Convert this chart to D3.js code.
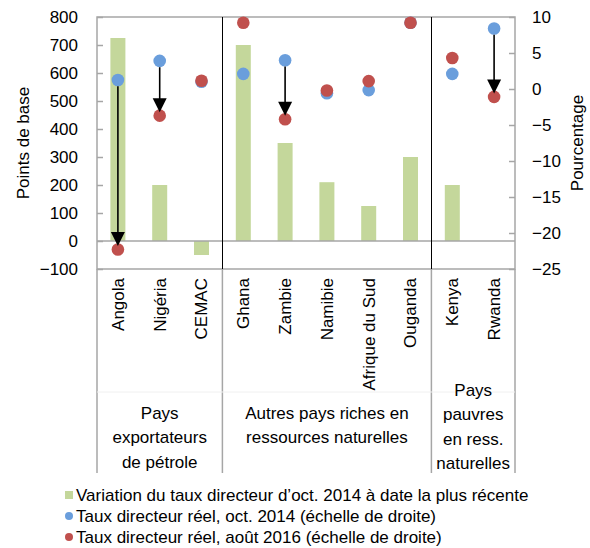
<!DOCTYPE html>
<html>
<head>
<meta charset="utf-8">
<script src="https://cdn.jsdelivr.net/npm/d3@7"></script>
<style>
  html, body { margin: 0; padding: 0; background: #fff; }
  svg { display: block; font-family: "Liberation Sans", Arial, sans-serif; }
</style>
</head>
<body>
<svg id="chart" width="590" height="548"></svg>
<script>
// ---- Data ----
const categories = ["Angola", "Nigéria", "CEMAC", "Ghana", "Zambie", "Namibie", "Afrique du Sud", "Ouganda", "Kenya", "Rwanda"];
const policyChange = [725, 200, -50, 700, 350, 210, 125, 300, 200, 0];      // points de base (left)
const realRateOct2014 = [1.25, 3.9, 1.0, 2.1, 4.0, -0.6, -0.15, 9.2, 2.1, 8.4]; // % (right)
const realRateAug2016 = [-22.3, -3.7, 1.15, 9.2, -4.2, -0.2, 1.1, 9.2, 4.3, -1.1]; // % (right)
const arrowCountries = ["Angola", "Nigéria", "Zambie", "Rwanda"];
const groups = [
  { lines: ["Pays", "exportateurs", "de pétrole"], first: "Angola", last: "CEMAC" },
  { lines: ["Autres pays riches en", "ressources naturelles"], first: "Ghana", last: "Ouganda" },
  { lines: ["Pays", "pauvres", "en ress.", "naturelles"], first: "Kenya", last: "Rwanda" }
];
const leftTicks = [-100, 0, 100, 200, 300, 400, 500, 600, 700, 800];
const rightTicks = [-25, -20, -15, -10, -5, 0, 5, 10];
const legendLabels = [
  "Variation du taux directeur d’oct. 2014 à date la plus récente",
  "Taux directeur réel, oct. 2014 (échelle de droite)",
  "Taux directeur réel, août 2016 (échelle de droite)"
];

// ---- Layout ----
const X0 = 97, X1 = 515, Y0 = 17, Y1 = 269, BOTTOM = 473;
const GREEN = "#c4d79b", BLUE = "#6a9edc", RED = "#c0504d", GRID = "#a6a6a6";
const FS = 17;

const svg = d3.select("#chart");
const x = d3.scaleBand().domain(categories).range([X0, X1]).paddingInner(0).paddingOuter(0);
const yL = d3.scaleLinear().domain([-100, 800]).range([Y1, Y0]);
const yR = d3.scaleLinear().domain([-25, 10]).range([Y1, Y0]);
const cx = c => x(c) + x.bandwidth() / 2;
const barW = 15;

// Bars
svg.append("g").selectAll("rect").data(categories).join("rect")
  .attr("x", c => cx(c) - barW / 2)
  .attr("width", barW)
  .attr("y", (c, i) => yL(Math.max(0, policyChange[i])))
  .attr("height", (c, i) => Math.abs(yL(policyChange[i]) - yL(0)))
  .attr("fill", GREEN);

// Zero line
svg.append("line").attr("x1", X0).attr("x2", X1).attr("y1", yL(0)).attr("y2", yL(0))
  .attr("stroke", GRID).attr("stroke-width", 1.5);

// Frame
svg.append("rect").attr("x", X0).attr("y", Y0).attr("width", X1 - X0).attr("height", Y1 - Y0)
  .attr("fill", "none").attr("stroke", GRID).attr("stroke-width", 1.5);

// Group separators inside plot (black) and below (gray)
const bounds = [X0];
groups.forEach(g => bounds.push(x(g.last) + x.bandwidth()));
groups.slice(0, -1).forEach(g => {
  const bx = Math.round(x(g.last) + x.bandwidth()) + 0.5;
  svg.append("line").attr("x1", bx).attr("x2", bx).attr("y1", Y0).attr("y2", Y1)
    .attr("stroke", "#000").attr("stroke-width", 1);
});
bounds.forEach(b => {
  svg.append("line").attr("x1", b).attr("x2", b).attr("y1", Y1).attr("y2", BOTTOM)
    .attr("stroke", GRID).attr("stroke-width", 1.5);
});
// faint divider between category and group levels
svg.append("line").attr("x1", X0).attr("x2", X1).attr("y1", 392).attr("y2", 392)
  .attr("stroke", "#f0f0f0").attr("stroke-width", 1);

// Axes
const axL = svg.append("g").attr("transform", `translate(${X0},0)`)
  .call(d3.axisLeft(yL).tickValues(leftTicks).tickSize(-6).tickPadding(19).tickFormat(d => d < 0 ? "−" + Math.abs(d) : d));
const axR = svg.append("g").attr("transform", `translate(${X1},0)`)
  .call(d3.axisRight(yR).tickValues(rightTicks).tickSize(-6).tickPadding(17).tickFormat(d => d < 0 ? "−" + Math.abs(d) : d));
[axL, axR].forEach(a => {
  a.select(".domain").remove();
  a.selectAll(".tick line").attr("stroke", GRID).attr("stroke-width", 1.5);
  a.selectAll(".tick text").attr("font-size", FS).attr("fill", "#000")
    .attr("font-family", "Liberation Sans, Arial, sans-serif");
});

// Axis titles
svg.append("text").attr("transform", `translate(23,${(Y0 + Y1) / 2}) rotate(-90)`)
  .attr("text-anchor", "middle").attr("dy", "0.35em").attr("font-size", FS).text("Points de base");
svg.append("text").attr("transform", `translate(577,${(Y0 + Y1) / 2}) rotate(-90)`)
  .attr("text-anchor", "middle").attr("dy", "0.35em").attr("font-size", FS).text("Pourcentage");

// Category labels (rotated)
svg.append("g").selectAll("text").data(categories).join("text")
  .attr("transform", c => `translate(${cx(c)},278) rotate(-90)`)
  .attr("text-anchor", "end").attr("dy", "0.35em").attr("font-size", FS).text(c => c);

// Group labels
const groupTop = [413, 413, 390];
groups.forEach((g, gi) => {
  const gx = (x(g.first) + x(g.last) + x.bandwidth()) / 2;
  const t = svg.append("text").attr("text-anchor", "middle").attr("font-size", FS);
  g.lines.forEach((l, li) => {
    t.append("tspan").attr("x", gx).attr("y", groupTop[gi] + li * 24.5).attr("dy", "0.35em").text(l);
  });
});

// Dots
const R = 6.3;
svg.append("g").selectAll("circle").data(categories).join("circle")
  .attr("cx", cx).attr("cy", (c, i) => yR(realRateOct2014[i])).attr("r", R).attr("fill", BLUE);
svg.append("g").selectAll("circle").data(categories).join("circle")
  .attr("cx", cx).attr("cy", (c, i) => yR(realRateAug2016[i])).attr("r", R).attr("fill", RED);

// Arrows
arrowCountries.forEach(c => {
  const i = categories.indexOf(c);
  const ax = cx(c);
  const yStart = yR(realRateOct2014[i]) + R;
  const tip = yR(realRateAug2016[i]) - 3.5;
  const headH = 14, headW = 7;
  svg.append("line").attr("x1", ax).attr("x2", ax).attr("y1", yStart).attr("y2", tip - headH + 1)
    .attr("stroke", "#000").attr("stroke-width", 1.6);
  svg.append("path")
    .attr("d", `M${ax - headW},${tip - headH} L${ax + headW},${tip - headH} L${ax},${tip} Z`)
    .attr("fill", "#000");
});

// Legend
const legY = [495, 516, 537];
svg.append("rect").attr("x", 65).attr("y", legY[0] - 4).attr("width", 8).attr("height", 8).attr("fill", GREEN);
svg.append("circle").attr("cx", 69).attr("cy", legY[1]).attr("r", 4).attr("fill", BLUE);
svg.append("circle").attr("cx", 69).attr("cy", legY[2]).attr("r", 4).attr("fill", RED);
legendLabels.forEach((l, i) => {
  svg.append("text").attr("x", 76).attr("y", legY[i]).attr("dy", "0.35em")
    .attr("font-size", FS).text(l);
});
</script>
</body>
</html>
